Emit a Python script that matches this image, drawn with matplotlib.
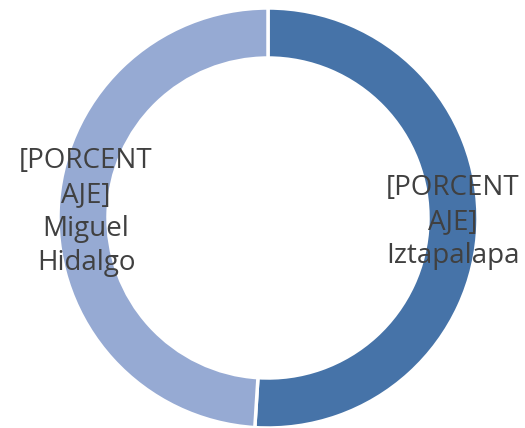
import matplotlib.pyplot as plt

categorias = ["Iztapalapa", "Miguel Hidalgo"]
valores = [51, 49]
colores = ["#4673A8", "#96AAD3"]
etiquetas = ["[PORCENT\nAJE]\nIztapalapa", "[PORCENT\nAJE]\nMiguel\nHidalgo"]

fig = plt.figure(figsize=(5.25, 4.28), dpi=100)
ax = fig.add_axes([0, 0, 1, 1])
ax.axis("off")

ax.pie(valores, colors=colores, startangle=90, counterclock=False,
       center=(268, 210), radius=210,
       wedgeprops=dict(width=50, edgecolor="white", linewidth=2.5))

ax.set_xlim(0, 525)
ax.set_ylim(0, 428)
ax.set_aspect("equal")

pos = [(453, 206), (86, 216)]
for txt, (x, y) in zip(etiquetas, pos):
    ax.text(x, y, txt, ha="center", va="center", multialignment="center",
            fontsize=20, color="#404040", family="Open Sans", linespacing=1.3)

fig.savefig("out.png", dpi=100)
